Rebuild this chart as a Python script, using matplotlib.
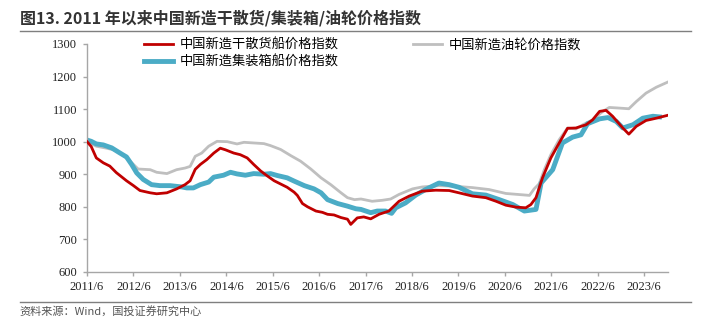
import matplotlib
matplotlib.use('Agg')
import matplotlib.pyplot as plt
import numpy as np

plt.rcParams['font.family'] = ['Noto Sans CJK SC', 'DejaVu Sans']

# decimal years, values are index levels
bulk_t = [2011.50, 2011.59, 2011.70, 2011.85, 2011.99, 2012.13, 2012.35, 2012.50, 2012.64,
          2012.86, 2013.00, 2013.22, 2013.43, 2013.61, 2013.72, 2013.83, 2013.94, 2014.08,
          2014.23, 2014.37, 2014.48, 2014.66, 2014.80, 2014.95, 2015.09, 2015.24, 2015.38,
          2015.53, 2015.67, 2015.81, 2015.96, 2016.03, 2016.14, 2016.25, 2016.43, 2016.57,
          2016.68, 2016.82, 2016.97, 2017.11, 2017.18, 2017.32, 2017.46, 2017.61, 2017.79,
          2018.00, 2018.22, 2018.44, 2018.72, 2019.01, 2019.30, 2019.51, 2019.80, 2020.09,
          2020.31, 2020.52, 2020.74, 2020.95, 2021.06, 2021.17, 2021.31, 2021.49, 2021.67,
          2021.85, 2022.03, 2022.25, 2022.39, 2022.54, 2022.68, 2022.82, 2023.04, 2023.17,
          2023.33, 2023.54, 2023.76, 2024.01]
bulk_v = [1000, 985, 950, 935, 925, 905, 880, 865, 850,
          843, 840, 843, 855, 868, 880, 915, 930, 945,
          965, 980, 975, 965, 960, 950, 930, 910, 895,
          880, 870, 860, 845, 835, 810, 800, 787, 783,
          777, 775, 767, 762, 746, 766, 769, 763, 777,
          787, 817, 833, 848, 851, 850, 843, 833, 828,
          817, 805, 799, 797, 807, 828, 889, 950, 996,
          1041, 1042, 1052, 1067, 1093, 1096, 1078, 1042, 1023,
          1047, 1065, 1072, 1081]

tanker_t = [2011.50, 2011.70, 2011.92, 2012.13, 2012.35, 2012.50, 2012.60, 2012.86, 2013.00,
            2013.22, 2013.43, 2013.61, 2013.72, 2013.83, 2013.97, 2014.12, 2014.30, 2014.52,
            2014.73, 2014.88, 2015.09, 2015.31, 2015.45, 2015.67, 2015.89, 2016.10, 2016.32,
            2016.54, 2016.75, 2016.97, 2017.11, 2017.26, 2017.40, 2017.64, 2017.86, 2018.04,
            2018.22, 2018.51, 2018.72, 2019.08, 2019.44, 2019.80, 2020.16, 2020.52, 2020.95,
            2021.03, 2021.13, 2021.24, 2021.35, 2021.49, 2021.67, 2021.85, 2022.03, 2022.18,
            2022.39, 2022.61, 2022.75, 2022.97, 2023.17, 2023.33, 2023.54, 2023.76, 2024.01]
tanker_v = [1000, 986, 980, 973, 950, 930, 916, 914, 906,
            902, 914, 919, 924, 955, 965, 986, 1001, 1000,
            993, 998, 996, 994, 988, 976, 957, 940, 916,
            889, 868, 843, 828, 822, 824, 817, 820, 824,
            838, 855, 861, 865, 863, 859, 853, 841, 836,
            835, 855, 871, 914, 960, 1006, 1042, 1039, 1052,
            1067, 1093, 1105, 1103, 1101, 1123, 1149, 1167, 1183]

box_t = [2011.50, 2011.59, 2011.70, 2011.85, 2012.03, 2012.21, 2012.35, 2012.46, 2012.57,
         2012.71, 2012.89, 2013.07, 2013.29, 2013.54, 2013.65, 2013.79, 2013.94, 2014.12,
         2014.23, 2014.44, 2014.59, 2014.73, 2014.91, 2015.09, 2015.31, 2015.45, 2015.60,
         2015.81, 2015.96, 2016.18, 2016.39, 2016.54, 2016.68, 2016.90, 2017.11, 2017.29,
         2017.40, 2017.61, 2017.75, 2017.93, 2018.06, 2018.15, 2018.36, 2018.58, 2018.79,
         2019.08, 2019.30, 2019.51, 2019.80, 2020.09, 2020.38, 2020.67, 2020.92, 2021.17,
         2021.28, 2021.53, 2021.74, 2021.96, 2022.14, 2022.28, 2022.54, 2022.72, 2022.90,
         2023.04, 2023.26, 2023.47, 2023.69, 2023.83]
box_v = [1005, 1001, 993, 990, 981, 965, 953, 930, 904,
         884, 868, 865, 865, 861, 858, 858, 868, 876,
         891, 897, 906, 901, 897, 902, 900, 902, 896,
         889, 879, 865, 855, 843, 822, 810, 802, 794,
         792, 782, 787, 787, 780, 797, 812, 836, 853,
         873, 868, 860, 840, 836, 822, 807, 787, 792,
         873, 914, 996, 1014, 1021, 1055, 1070, 1074, 1062,
         1042, 1052, 1072, 1078, 1076]

years = list(range(2011, 2024))
tick_labels = ['%d/6' % y for y in years]

fig = plt.figure(figsize=(7.02, 3.23), dpi=100)
ax = fig.add_axes([0.124, 0.158, 0.828, 0.706])

ax.plot(bulk_t, bulk_v, color='#C00000', lw=2, label='中国新造干散货船价格指数', zorder=3)
ax.plot(box_t, box_v, color='#4BACC6', lw=3.5, label='中国新造集装箱船价格指数', zorder=2)
ax.plot(tanker_t, tanker_v, color='#BFBFBF', lw=2, label='中国新造油轮价格指数', zorder=1)

ax.set_xlim(2011.5, 2024.02)
ax.set_ylim(600, 1300)
ax.set_yticks(np.arange(600, 1301, 100))
ax.set_xticks([y + 0.5 for y in years])
ax.set_xticklabels(tick_labels)
for lab in ax.get_xticklabels() + ax.get_yticklabels():
    lab.set_family('Liberation Serif')
    lab.set_fontsize(9)
    lab.set_color('#222222')

for s in ['top', 'right']:
    ax.spines[s].set_visible(False)
for s in ['left', 'bottom']:
    ax.spines[s].set_color('#A6A6A6')
    ax.spines[s].set_linewidth(1)
ax.tick_params(axis='both', color='#A6A6A6', length=3, width=1)
ax.tick_params(axis='y', pad=4)

h, l = ax.get_legend_handles_labels()
ax.legend([h[0], h[1], h[2]], [l[0], l[1], l[2]], ncol=2, loc='upper left',
          bbox_to_anchor=(0.078, 1.075), frameon=False, fontsize=9.5,
          handlelength=2.2, handletextpad=0.5, columnspacing=5.6, labelspacing=0.25)

fig.text(0.028, 0.945, '图13. 2011 年以来中国新造干散货/集装箱/油轮价格指数',
         fontsize=11.5, fontweight='bold', color='#333333', va='center')
fig.add_artist(plt.Line2D([0.028, 0.985], [0.905, 0.905], color='#7F7F7F', lw=1))
fig.add_artist(plt.Line2D([0.028, 0.985], [0.065, 0.065], color='#7F7F7F', lw=1))
fig.text(0.028, 0.035, '资料来源：Wind，国投证券研究中心', fontsize=8,
         color='#555555', va='center')

fig.savefig('out.png', dpi=100)
